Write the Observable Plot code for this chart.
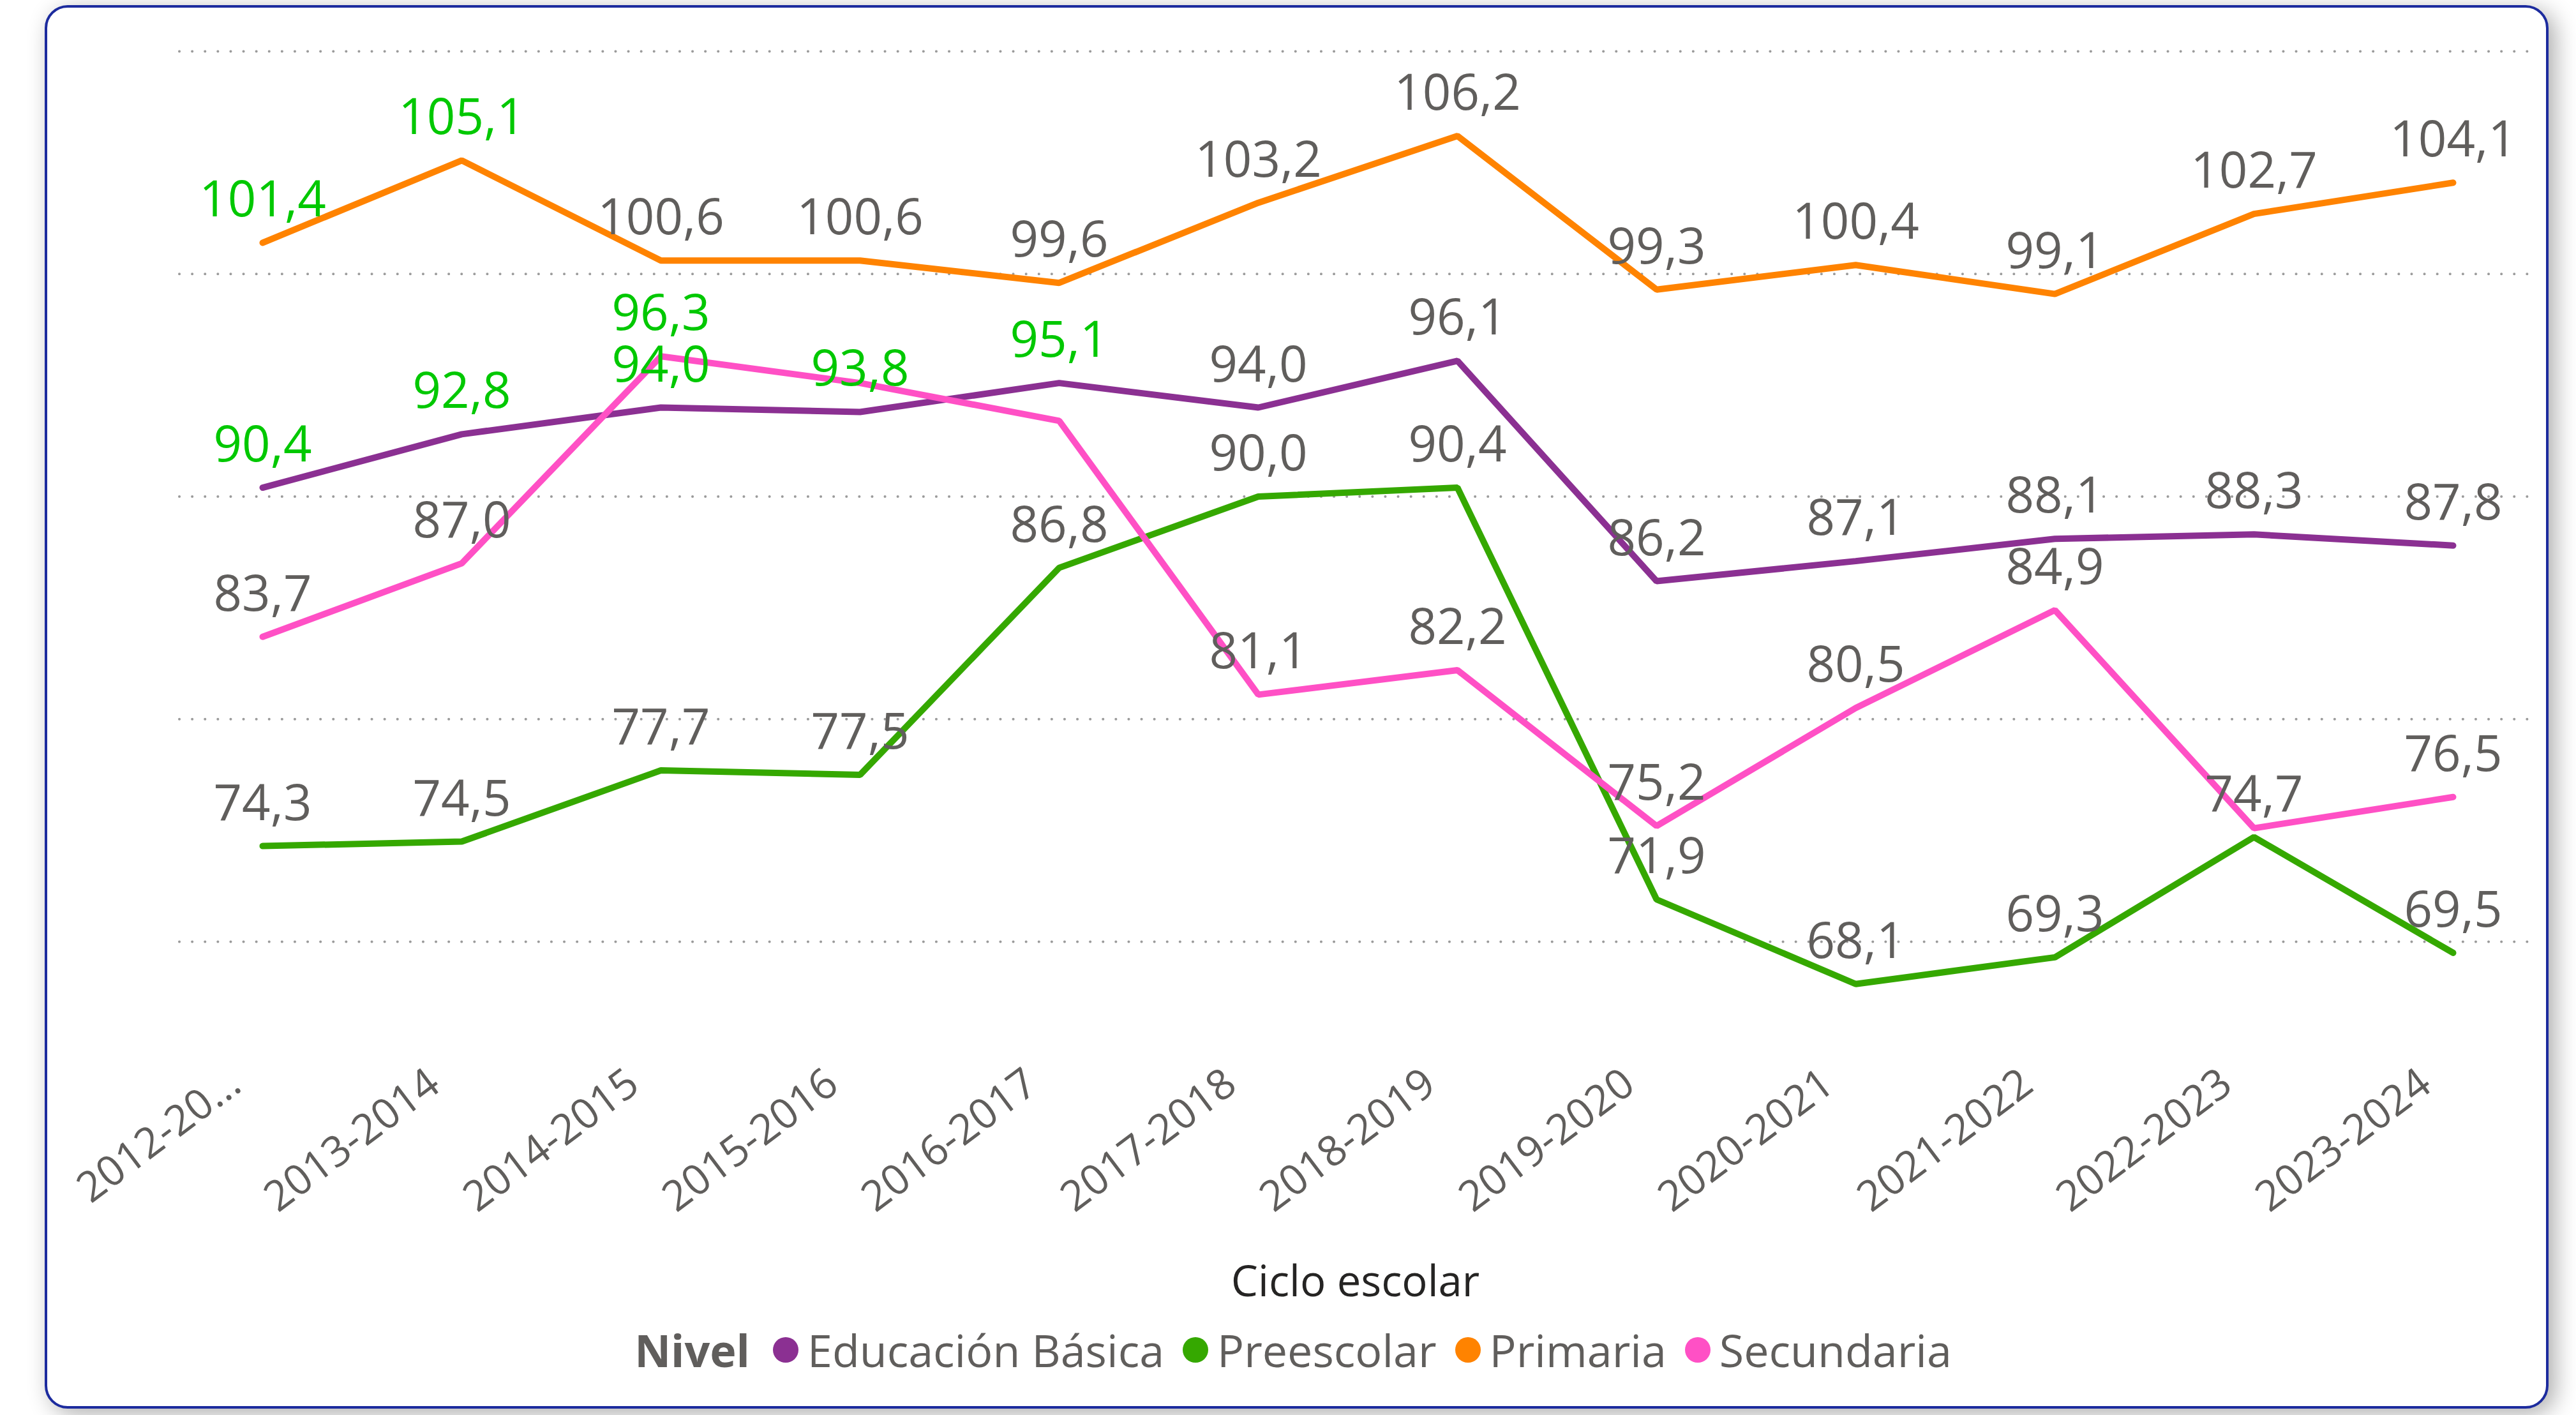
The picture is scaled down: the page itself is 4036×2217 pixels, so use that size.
<!DOCTYPE html>
<html>
<head>
<meta charset="utf-8">
<script src="https://cdn.jsdelivr.net/npm/d3@7"></script>
<script src="https://cdn.jsdelivr.net/npm/@observablehq/plot@0.6"></script>
<style>
  html, body { margin: 0; padding: 0; background: #ffffff; width: 4036px; height: 2217px; overflow: hidden; font-family: "Open Sans", sans-serif; }
  #card { position: absolute; left: 70px; top: 8px; width: 3923px; height: 2199px; box-sizing: border-box;
          border: 4px solid #1c2b9e; border-radius: 36px; background: #ffffff;
          box-shadow: 10px 8px 36px rgba(0,0,0,0.33); }
  #chart { position: absolute; left: 0; top: 0; }
  #legend { position: absolute; left: 8px; top: 2060px; width: 4036px; height: 110px; display: flex; align-items: center;
            justify-content: center; font-size: 70px; color: #605E5C; white-space: nowrap; }
  #legend .title { font-weight: bold; margin-right: 36px; }
  #legend .item { display: flex; align-items: center; margin-left: 29px; }
  #legend .dot { width: 40px; height: 40px; border-radius: 50%; margin-right: 14px; }
</style>
</head>
<body>
<div id="card"></div>
<div id="chart"></div>
<div id="legend"></div>
<script>
// ---- data ----
const categories = ["2012-2013","2013-2014","2014-2015","2015-2016","2016-2017","2017-2018",
                    "2018-2019","2019-2020","2020-2021","2021-2022","2022-2023","2023-2024"];
const tickLabels = ["2012-20...","2013-2014","2014-2015","2015-2016","2016-2017","2017-2018",
                    "2018-2019","2019-2020","2020-2021","2021-2022","2022-2023","2023-2024"];
const seriesNames = ["Educación Básica","Preescolar","Primaria","Secundaria"];
const educacionBasica = [90.4, 92.8, 94.0, 93.8, 95.1, 94.0, 96.1, 86.2, 87.1, 88.1, 88.3, 87.8];
const preescolar      = [74.3, 74.5, 77.7, 77.5, 86.8, 90.0, 90.4, 71.9, 68.1, 69.3, 74.7, 69.5];
const primaria        = [101.4, 105.1, 100.6, 100.6, 99.6, 103.2, 106.2, 99.3, 100.4, 99.1, 102.7, 104.1];
const secundaria      = [83.7, 87.0, 96.3, 95.1, 93.4, 81.1, 82.2, 75.2, 80.5, 84.9, 75.1, 76.5];
const yTicks = [70, 80, 90, 100, 110];

// ---- presentation ----
const seriesColors = ["#8B3092", "#35A800", "#FF8300", "#FF50C5"];
const hiddenLabels = { "Secundaria": [3, 4, 10] };           // labels suppressed in the original
const greenLabels = { "Educación Básica": [0, 1, 2, 3, 4], "Primaria": [0, 1], "Secundaria": [2] };

const valuesBySeries = [educacionBasica, preescolar, primaria, secundaria];
const rows = seriesNames.flatMap((s, si) => valuesBySeries[si].map((v, i) => ({
  series: s, cat: categories[i], value: v,
  show: !(hiddenLabels[s] || []).includes(i),
  green: (greenLabels[s] || []).includes(i)
})));
const fmt = v => v.toFixed(1).replace(".", ",");

const W = 4036, H = 2060;
const chart = Plot.plot({
  width: W, height: H,
  marginLeft: 281, marginRight: 71, marginTop: 80, marginBottom: H - 1717,
  x: { type: "point", domain: categories, range: [408, 3845.5], padding: 0, axis: null },
  y: { domain: [70, 110], range: [1475, 80], axis: null },
  color: { domain: seriesNames, range: seriesColors },
  style: { background: "transparent", fontFamily: "'Open Sans', sans-serif", overflow: "visible" },
  marks: [
    Plot.gridY(yTicks, { stroke: "#9b9b9b", strokeOpacity: 1, strokeWidth: 4, strokeDasharray: "0.1,20", strokeLinecap: "round" }),
    Plot.line(rows, { x: "cat", y: "value", z: "series", stroke: "series", strokeWidth: 10,
                      strokeLinecap: "round", strokeLinejoin: "miter" }),
    Plot.text(rows.filter(d => d.show && !d.green), { x: "cat", y: "value", text: d => fmt(d.value),
                      fill: "#605E5C", lineAnchor: "bottom", dy: -41, fontSize: 78 }),
    Plot.text(rows.filter(d => d.show && d.green), { x: "cat", y: "value", text: d => fmt(d.value),
                      fill: "#00C800", lineAnchor: "bottom", dy: -41, fontSize: 78 }),
    Plot.text(categories, { x: d => d, text: (d, i) => tickLabels[i], frameAnchor: "bottom", rotate: -37,
                      textAnchor: "end", lineAnchor: "bottom", dx: -30, dy: -11, fontSize: 66, fill: "#605E5C" }),
    Plot.text(["Ciclo escolar"], { frameAnchor: "bottom", dy: 313, lineAnchor: "bottom", fontSize: 67, fill: "#252423" })
  ]
});
document.getElementById("chart").appendChild(chart);

// legend
const legend = document.getElementById("legend");
const t = document.createElement("span");
t.className = "title"; t.textContent = "Nivel";
legend.appendChild(t);
seriesNames.forEach((s, i) => {
  const item = document.createElement("span");
  item.className = "item";
  if (i === 0) item.style.marginLeft = "0";
  const dot = document.createElement("span");
  dot.className = "dot"; dot.style.background = seriesColors[i];
  const label = document.createElement("span");
  label.textContent = s;
  item.appendChild(dot); item.appendChild(label);
  legend.appendChild(item);
});
</script>
</body>
</html>
